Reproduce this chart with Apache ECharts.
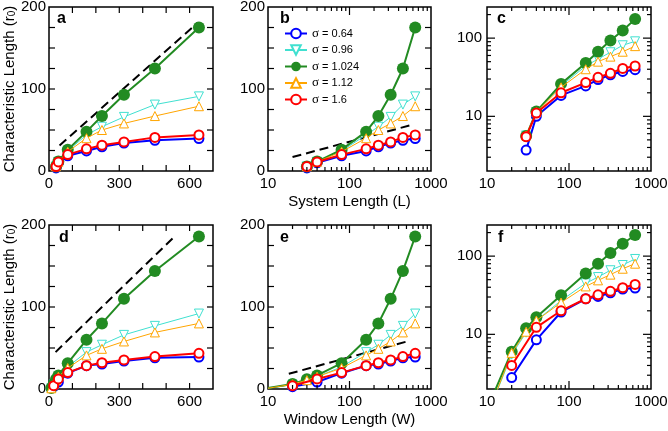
<!DOCTYPE html>
<html><head><meta charset="utf-8">
<script src="https://cdn.jsdelivr.net/npm/echarts@6/dist/echarts.min.js"></script>
<style>html,body{margin:0;padding:0;background:#fff}#c{width:668px;height:431px}</style>
</head><body><div id="c"></div>
<script>
// ---- data: top row (System Length L) ----
const L = [30, 40, 80, 160, 226, 320, 452, 640];
const top064  = [3.7, 10, 18.5, 24.5, 29.5, 34, 37.5, 39.5];
const top096  = [5.7, 11.3, 24.5, 44, 54, 66, 81, 91];
const top1024 = [5.6, 11.5, 26, 48, 67, 93, 125, 175];
const top112  = [5.7, 11.3, 23.5, 40, 50, 58, 67, 79];
const top16   = [5.5, 11, 20, 27, 31.5, 35.5, 41, 44];
// ---- data: bottom row (Window Length W) ----
const W_long  = [10, 20, 30, 40, 80, 160, 226, 320, 452, 640];
const W_short = [20, 40, 80, 160, 226, 320, 452, 640];
const bot064  = [2.8, 8.5, 19.3, 28.5, 30.5, 34, 38, 39];
const bot096  = [0.9, 5.5, 10.5, 15, 27, 45, 54, 66, 77, 92];
const bot1024 = [1.1, 6, 12, 16.5, 31.5, 60, 80, 110, 144, 186];
const bot112  = [0.9, 5.8, 10.8, 15, 25.5, 41, 49, 58, 69, 80];
const bot16   = [4, 12.3, 20, 28.5, 32, 35.5, 39.5, 43.5];
// ---- dashed guide lines ----
const dashA_x = [45, 635],  dashA_y = [31, 181];
const dashB_x = [20, 620],  dashB_y = [17, 57];
const dashD_x = [28, 540],  dashD_y = [45, 187];
const dashE_x = [18, 555],  dashE_y = [18.5, 59];
// ---- labels ----
const sigmaNames = ['σ = 0.64', 'σ = 0.96', 'σ = 1.024', 'σ = 1.12', 'σ = 1.6'];
const panelLetters = ['a', 'b', 'c', 'd', 'e', 'f'];
const yTitle = 'Characteristic Length (r{sub|0})';
const xTitleTop = 'System Length (L)';
const xTitleBot = 'Window Length (W)';

const FONT = 'Liberation Sans';
const styles = [
  {color:'#0000ff', symbol:'circle',   size:9,  rot:0,   fill:'#fff',    bw:2, lw:2},
  {color:'#40e0d0', symbol:'triangle', size:9,  rot:180, fill:'#fff',    bw:1, lw:1},
  {color:'#228b22', symbol:'circle',   size:12, rot:0,   fill:'#228b22', bw:0, lw:2},
  {color:'#ffa500', symbol:'triangle', size:9,  rot:0,   fill:'#fff',    bw:1, lw:1},
  {color:'#ff0000', symbol:'circle',   size:9,  rot:0,   fill:'#fff',    bw:2, lw:2}
];
const topSets = [[L, top064],[L, top096],[L, top1024],[L, top112],[L, top16]];
const botSets = [[W_short, bot064],[W_long, bot096],[W_long, bot1024],[W_long, bot112],[W_short, bot16]];

const panels = [
  {left:49,  top:7,   width:164, height:164, x:'lin', y:'lin', sets:topSets, dash:[dashA_x, dashA_y], lx:57,  ly:18.5},
  {left:268, top:7,   width:163, height:164, x:'log', y:'lin', sets:topSets, dash:[dashB_x, dashB_y], lx:280, ly:18.5},
  {left:487, top:7,   width:164, height:164, x:'log', y:'log', sets:topSets, dash:null, lx:497, ly:18.5},
  {left:49,  top:225, width:164, height:164, x:'lin', y:'lin', sets:botSets, dash:[dashD_x, dashD_y], lx:59,  ly:237.5},
  {left:268, top:225, width:163, height:164, x:'log', y:'lin', sets:botSets, dash:[dashE_x, dashE_y], lx:280, ly:237.5},
  {left:487, top:225, width:164, height:164, x:'log', y:'log', sets:botSets, dash:null, lx:498, ly:237.5}
];

function isDecade(v){ const l = Math.log10(v); return Math.abs(l - Math.round(l)) < 1e-6; }
function tickData(p){
  const d = [];
  if (p.x === 'lin') { for (let v = 100; v < 700; v += 100) d.push([v, 50, 0, 6]); }
  else { for (const dec of [10, 100]) for (let m = 1; m <= 9; m++) { const v = m*dec; if (v > 10 && v < 1000) d.push([v, 50, 0, m===1?8:4]); } }
  if (p.y === 'lin') { for (let v = 25; v < 200; v += 25) d.push([50, v, 1, 6]); }
  else { for (const dec of [1, 10, 100]) for (let m = 1; m <= 9; m++) { const v = m*dec; if (v > 2 && v < 250) d.push([50, v, 1, m===1?8:4]); } }
  return d;
}
function renderTick(params, api){
  const cs = params.coordSys;
  const pt = api.coord([api.value(0), api.value(1)]);
  const ax = api.value(2), len = api.value(3);
  const st = {stroke:'#000', lineWidth:1.2};
  if (ax === 0) {
    const b = cs.y + cs.height, t = cs.y;
    return {type:'group', children:[
      {type:'line', shape:{x1:pt[0], y1:b, x2:pt[0], y2:b-len}, style:st},
      {type:'line', shape:{x1:pt[0], y1:t, x2:pt[0], y2:t+len}, style:st}]};
  }
  const l = cs.x, r = cs.x + cs.width;
  return {type:'group', children:[
    {type:'line', shape:{x1:l, y1:pt[1], x2:l+len, y2:pt[1]}, style:st},
    {type:'line', shape:{x1:r, y1:pt[1], x2:r-len, y2:pt[1]}, style:st}]};
}

const grid = [], xAxis = [], yAxis = [], series = [], graphic = [];
const labelStyle = {fontSize:15, color:'#000', fontFamily:FONT};
panels.forEach((p, i) => {
  grid.push({left:p.left, top:p.top, width:p.width, height:p.height, show:true, borderColor:'#000', borderWidth:1.5,
             backgroundColor:'rgba(0,0,0,0)', containLabel:false, outerBoundsMode:'none'});
  const xa = {gridIndex:i, axisLine:{show:false}, axisTick:{show:false}, splitLine:{show:false},
              axisLabel:Object.assign({margin:5, showMinLabel:true, showMaxLabel:true}, labelStyle)};
  if (p.x === 'lin') { Object.assign(xa, {type:'value', min:0, max:700, interval:100});
    xa.axisLabel.formatter = v => (v % 300 === 0 ? String(v) : ''); }
  else { Object.assign(xa, {type:'log', logBase:10, min:10, max:1000});
    xa.axisLabel.formatter = v => (isDecade(v) ? String(Math.round(v)) : ''); }
  if (i === 1 || i === 4) {
    Object.assign(xa, {name: i === 1 ? xTitleTop : xTitleBot, nameLocation:'middle', nameGap:23,
      nameTextStyle:{fontSize:15, color:'#000', fontFamily:FONT}});
  }
  xAxis.push(xa);
  const ya = {gridIndex:i, axisLine:{show:false}, axisTick:{show:false}, splitLine:{show:false},
              axisLabel:Object.assign({margin:3, showMinLabel:true, showMaxLabel:true}, labelStyle)};
  if (p.y === 'lin') { Object.assign(ya, {type:'value', min:0, max:200, interval:100});
    ya.axisLabel.formatter = v => String(v); }
  else { Object.assign(ya, {type:'log', logBase:10, min:2, max:250});
    ya.axisLabel.formatter = v => (isDecade(v) && v >= 10 ? String(Math.round(v)) : ''); ya.axisLabel.margin = 5; }
  if (i === 0 || i === 3) {
    Object.assign(ya, {name:yTitle, nameLocation:'middle', nameGap:27, nameRotate:90,
      nameTextStyle:{fontSize:15, color:'#000', fontFamily:FONT,
        rich:{sub:{fontSize:10, fontFamily:FONT, color:'#000', verticalAlign:'bottom', lineHeight:14}}}});
  }
  yAxis.push(ya);

  p.sets.forEach((set, k) => {
    const s = styles[k];
    const xs = set[0], ys = set[1];
    const data = xs.map((x, j) => {
      if (x === 10 && p.x === 'log') return {value:[x, ys[j]], symbolSize:0};
      return [x, ys[j]];
    });
    series.push({type:'line', name:sigmaNames[k], xAxisIndex:i, yAxisIndex:i, data,
      symbol:s.symbol, symbolSize:s.size, symbolRotate:s.rot, showSymbol:true, clip:true,
      lineStyle:{color:s.color, width:s.lw},
      itemStyle:{color:s.fill, borderColor:s.color, borderWidth:s.bw},
      emphasis:{disabled:true}, silent:true, z:2+k});
  });
  if (p.dash) {
    series.push({type:'line', xAxisIndex:i, yAxisIndex:i, data:p.dash[0].map((x,j)=>[x, p.dash[1][j]]),
      symbol:'none', lineStyle:{color:'#000', width:2, type:[9,5]}, silent:true, z:1, emphasis:{disabled:true}});
  }
  series.push({type:'custom', xAxisIndex:i, yAxisIndex:i, data:tickData(p), renderItem:renderTick,
    silent:true, z:10, clip:false});
  graphic.push({type:'text', x:p.lx, y:p.ly, z:20, style:{text:panelLetters[i], font:'bold 16px "Liberation Sans"',
    fill:'#000', align:'left', verticalAlign:'middle', textAlign:'left', textVerticalAlign:'middle'}});
});

const chart = echarts.init(document.getElementById('c'), null, {renderer:'canvas'});
chart.setOption({
  animation:false,
  backgroundColor:'#fff',
  grid, xAxis, yAxis, series, graphic,
  legend:{show:true, data:sigmaNames, orient:'vertical', left:284, top:27, padding:0,
    itemWidth:22, itemHeight:12, itemGap:3.5, selectedMode:false,
    formatter: n => '{s|σ}' + n.slice(1),
    textStyle:{fontSize:11, color:'#000', fontFamily:FONT, lineHeight:10,
      rich:{s:{fontFamily:'Liberation Serif', fontSize:13, color:'#000', lineHeight:10}}}}
});
</script></body></html>
